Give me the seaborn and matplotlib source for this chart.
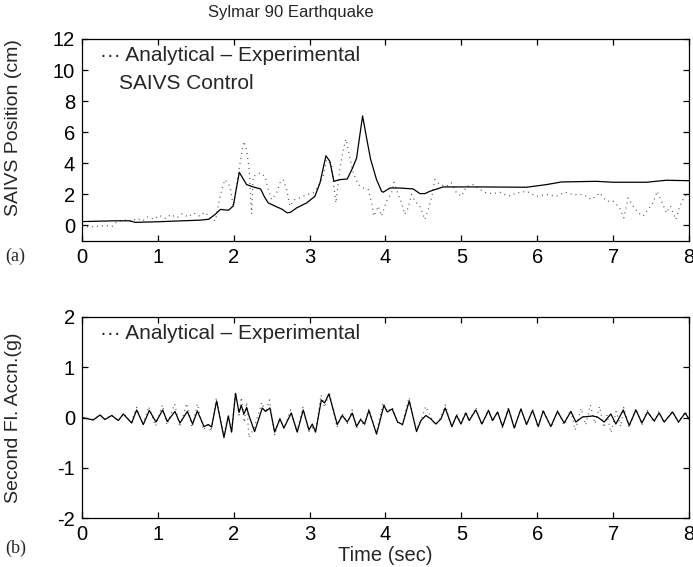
import matplotlib
matplotlib.use("Agg")
import matplotlib.pyplot as plt
import pandas as pd
import seaborn as sns

# ---- (a) SAIVS position, cm ----
pos_exp_t = [0.0, 0.44, 0.63, 0.70, 1.01, 1.32, 1.555, 1.67, 1.757, 1.823, 1.932, 1.994,
             2.073, 2.169, 2.257, 2.354, 2.411, 2.455, 2.565, 2.631, 2.705, 2.749, 2.828,
             2.96, 3.07, 3.136, 3.215, 3.267, 3.32, 3.40, 3.496, 3.566, 3.619, 3.698,
             3.751, 3.803, 3.882, 3.948, 3.97, 4.058, 4.19, 4.365, 4.453, 4.519, 4.585,
             4.761, 5.244, 5.859, 6.122, 6.32, 6.781, 7.0, 7.439, 7.703, 8.0]
pos_exp_v = [0.25, 0.30, 0.30, 0.20, 0.24, 0.30, 0.34, 0.40, 0.72, 1.03, 0.98, 1.26,
             3.42, 2.63, 2.48, 2.35, 1.78, 1.45, 1.20, 1.06, 0.81, 0.85, 1.13,
             1.45, 1.88, 2.73, 4.49, 4.12, 2.84, 2.95, 2.99, 3.70, 4.34, 7.05,
             5.62, 4.27, 2.95, 2.20, 2.14, 2.41, 2.41, 2.35, 2.05, 2.05, 2.20,
             2.48, 2.48, 2.46, 2.63, 2.80, 2.84, 2.78, 2.78, 2.91, 2.88]

pos_ana_t = [0.0, 0.1, 0.2, 0.3, 0.4, 0.45, 0.5, 0.58, 0.65, 0.72, 0.8, 0.87, 0.95,
             1.02, 1.1, 1.17, 1.25, 1.32, 1.4, 1.47, 1.55, 1.62, 1.7, 1.76, 1.8, 1.84,
             1.884, 1.95, 1.994, 2.104, 2.135, 2.169, 2.204, 2.235, 2.257, 2.345,
             2.411, 2.455, 2.499, 2.565, 2.609, 2.653, 2.697, 2.741, 2.806, 2.872,
             2.96, 3.048, 3.114, 3.179, 3.223, 3.289, 3.346, 3.40, 3.443, 3.479,
             3.522, 3.575, 3.641, 3.707, 3.773, 3.817, 3.848, 3.905, 3.948, 4.014,
             4.08, 4.11, 4.168, 4.212, 4.255, 4.299, 4.343, 4.387, 4.453, 4.519,
             4.563, 4.607, 4.651, 4.716, 4.804, 4.87, 4.936, 5.002, 5.068, 5.156,
             5.244, 5.331, 5.419, 5.507, 5.617, 5.727, 5.858, 5.99, 6.122, 6.254,
             6.363, 6.473, 6.605, 6.715, 6.825, 6.912, 7.0, 7.088, 7.141, 7.198,
             7.264, 7.33, 7.396, 7.461, 7.527, 7.58, 7.637, 7.703, 7.756, 7.826,
             7.878, 7.944, 8.0]
pos_ana_v = [-0.05, -0.10, -0.05, 0.0, -0.05, 0.20, 0.30, 0.35, 0.25, 0.45, 0.30, 0.55, 0.40,
             0.65, 0.45, 0.70, 0.50, 0.75, 0.55, 0.80, 0.60, 0.85, 0.45, 0.30, 1.40, 2.30,
             2.95, 2.52, 1.24, 4.66, 5.41, 4.87, 3.59, 0.74, 3.16, 3.38,
             3.16, 2.31, 1.67, 2.10, 2.74, 2.95, 2.31, 1.24, 1.67, 1.78,
             1.99, 2.10, 2.52, 3.16, 4.23, 3.91, 1.45, 3.70, 4.87, 5.56,
             4.55, 3.38, 2.63, 2.42, 2.31, 1.45, 0.60, 1.24, 0.60, 1.56,
             2.09, 2.78, 1.99, 1.45, 0.71, 1.13, 1.99, 1.56, 1.24, 0.38,
             1.03, 1.77, 2.95, 2.63, 2.52, 2.74, 2.09, 1.88, 2.52, 2.63,
             2.31, 2.09, 2.05, 2.14, 1.88, 2.09, 2.20, 1.88, 1.99, 1.88,
             2.14, 1.99, 1.99, 1.67, 2.09, 1.56, 1.56, 1.13, 0.49, 1.77,
             1.24, 0.81, 0.60, 1.03, 1.45, 2.20, 1.56, 0.81, 1.24, 0.38,
             1.24, 1.88, 2.09]

# ---- (b) second floor acceleration, g ----
acc_exp_t = [0.0, 0.149, 0.237, 0.303, 0.391, 0.479, 0.545, 0.654, 0.72, 0.808, 0.887,
             0.975, 1.063, 1.124, 1.225, 1.291, 1.388, 1.458, 1.52, 1.607, 1.664, 1.708,
             1.774, 1.871, 1.928, 1.972, 2.024, 2.069, 2.099, 2.134, 2.17, 2.20, 2.275,
             2.376, 2.42, 2.477, 2.539, 2.609, 2.661, 2.758, 2.837, 2.916, 2.991, 3.035,
             3.079, 3.154, 3.197, 3.254, 3.364, 3.43, 3.496, 3.562, 3.619, 3.671, 3.724,
             3.781, 3.882, 3.979, 4.023, 4.088, 4.159, 4.225, 4.313, 4.409, 4.467,
             4.532, 4.598, 4.664, 4.73, 4.787, 4.875, 4.937, 4.994, 5.059, 5.103, 5.191,
             5.27, 5.358, 5.411, 5.477, 5.543, 5.622, 5.697, 5.785, 5.859, 5.938, 6.013,
             6.078, 6.179, 6.267, 6.355, 6.443, 6.509, 6.596, 6.662, 6.728, 6.794, 6.882,
             6.97, 7.036, 7.133, 7.212, 7.30, 7.379, 7.454, 7.541, 7.607, 7.673, 7.783,
             7.862, 7.95, 8.0]
acc_exp_v = [0.0, -0.05, 0.05, -0.04, 0.04, -0.06, 0.07, -0.11, 0.15, -0.14, 0.14,
             -0.09, 0.15, -0.08, 0.12, -0.11, 0.12, -0.13, 0.13, -0.18, -0.14, -0.19,
             0.33, -0.40, 0.03, -0.29, 0.48, 0.10, 0.24, 0.07, 0.20, 0.04, -0.28,
             0.19, 0.12, 0.19, -0.29, -0.03, -0.21, 0.09, -0.29, 0.15, -0.25, -0.13,
             -0.29, 0.35, 0.29, 0.47, -0.14, 0.04, -0.09, 0.09, -0.18, -0.04, -0.13,
             0.14, -0.33, 0.24, 0.11, 0.17, -0.09, -0.14, 0.33, -0.28, -0.06,
             0.04, -0.03, -0.13, -0.03, 0.19, -0.18, 0.04, -0.13, 0.09, -0.06, 0.15,
             -0.13, 0.14, -0.06, 0.11, -0.18, 0.17, -0.21, 0.17, -0.14, 0.14, -0.18,
             0.13, -0.18, 0.12, -0.11, 0.12, -0.09, 0.01, 0.02, 0.03, 0.01, -0.09,
             0.07, -0.13, 0.15, -0.16, 0.15, -0.11, 0.11, -0.07, 0.09, -0.09, 0.11,
             -0.09, 0.09, -0.03]

acc_ana_t = [0.0, 0.15, 0.24, 0.30, 0.39, 0.48, 0.545, 0.65, 0.72, 0.80, 0.88, 0.97,
             1.06, 1.12, 1.22, 1.29, 1.38, 1.45, 1.52, 1.60, 1.66, 1.70, 1.77, 1.87,
             1.93, 1.97, 2.02, 2.07, 2.10, 2.14, 2.17, 2.20, 2.27, 2.37, 2.42, 2.47,
             2.54, 2.60, 2.66, 2.75, 2.83, 2.91, 2.99, 3.04, 3.08, 3.15, 3.20, 3.26,
             3.36, 3.43, 3.50, 3.56, 3.62, 3.67, 3.72, 3.78, 3.88, 3.97, 4.02, 4.09,
             4.16, 4.22, 4.31, 4.40, 4.46, 4.53, 4.60, 4.66, 4.73, 4.79, 4.87, 4.94,
             4.99, 5.06, 5.10, 5.19, 5.27, 5.35, 5.41, 5.48, 5.54, 5.62, 5.70, 5.78,
             5.86, 5.94, 6.01, 6.08, 6.18, 6.27, 6.35, 6.44, 6.50, 6.58, 6.64, 6.70,
             6.76, 6.82, 6.88, 6.92, 6.97, 7.04, 7.10, 7.14, 7.21, 7.30, 7.38, 7.45,
             7.54, 7.60, 7.67, 7.78, 7.86, 7.95, 8.0]
acc_ana_v = [0.0, -0.04, 0.05, -0.04, 0.05, -0.07, 0.08, -0.10, 0.20, -0.15, 0.22, -0.17,
             0.25, -0.15, 0.27, -0.19, 0.28, -0.20, 0.27, -0.25, -0.15, -0.28, 0.38, -0.35,
             0.05, -0.30, 0.50, 0.05, 0.40, -0.10, 0.30, -0.40, -0.20, 0.30, 0.10, 0.35,
             -0.35, 0.0, -0.22, 0.15, -0.30, 0.20, -0.28, -0.20, -0.30, 0.45, 0.20, 0.50,
             -0.20, 0.08, -0.12, 0.15, -0.22, -0.02, -0.17, 0.18, -0.30, 0.30, 0.12, 0.20,
             -0.10, -0.15, 0.40, -0.24, -0.10, 0.22, 0.0, -0.15, 0.0, 0.25, -0.20, 0.08,
             -0.12, 0.12, -0.08, 0.20, -0.15, 0.16, -0.08, 0.12, -0.20, 0.20, -0.22, 0.18,
             -0.15, 0.17, -0.20, 0.16, -0.20, 0.15, -0.15, 0.15, -0.25, 0.18, -0.15, 0.25,
             -0.12, 0.22, -0.20, 0.05, -0.30, 0.12, -0.18, 0.20, -0.20, 0.18, -0.15, 0.14,
             -0.10, 0.12, -0.10, 0.13, -0.10, 0.12, -0.02]

x_ticks = [0, 1, 2, 3, 4, 5, 6, 7, 8]
pos_ticks = [0, 2, 4, 6, 8, 10, 12]
acc_ticks = [-2, -1, 0, 1, 2]

sns.set_theme(style="ticks")
plt.rcParams["font.family"] = ["Liberation Sans", "DejaVu Sans"]
plt.rcParams["axes.unicode_minus"] = False

fig = plt.figure(figsize=(6.93, 5.67), dpi=100)
W, H = 693, 567
ax1 = fig.add_axes([82 / W, 1 - 241 / H, 607 / W, 202 / H])
ax2 = fig.add_axes([82 / W, 1 - 518 / H, 607 / W, 201 / H])

solid_kw = dict(color="black", linewidth=0.9, estimator=None, sort=False)
dot_kw = dict(color="#555555", linewidth=0.9, linestyle=(0, (0.8, 3.2)),
              estimator=None, sort=False)

sns.lineplot(data=pd.DataFrame({"t": pos_ana_t, "v": pos_ana_v}), x="t", y="v", ax=ax1, **dot_kw)
sns.lineplot(data=pd.DataFrame({"t": pos_exp_t, "v": pos_exp_v}), x="t", y="v", ax=ax1, **solid_kw)
sns.lineplot(data=pd.DataFrame({"t": acc_ana_t, "v": acc_ana_v}), x="t", y="v", ax=ax2, **dot_kw)
sns.lineplot(data=pd.DataFrame({"t": acc_exp_t, "v": acc_exp_v}), x="t", y="v", ax=ax2, **solid_kw)

for ax, yt, ylim in ((ax1, pos_ticks, (-1, 12)), (ax2, acc_ticks, (-2, 2))):
    ax.set_xlim(0, 8)
    ax.set_ylim(*ylim)
    ax.set_xticks(x_ticks)
    ax.set_yticks(yt)
    ax.tick_params(direction="in", length=4, width=0.9, top=True, right=True,
                   labelsize=14.5, colors="black", pad=5)
    for s in ax.spines.values():
        s.set_visible(True)
        s.set_color("black")
        s.set_linewidth(0.9)
    ax.set_xlabel("")
    ax.set_ylabel("")

ax1.set_ylabel("SAIVS Position (cm)", fontsize=14)
ax1.yaxis.set_label_coords((22 - 82) / 607, (241 - 128) / 202)
ax2.set_ylabel("Second Fl. Accn.(g)", fontsize=14)
ax2.yaxis.set_label_coords((22 - 82) / 607, 0.5)
ax2.set_xlabel("Time (sec)", fontsize=14.5)
ax2.xaxis.set_label_coords(0.5, (518 - 546) / 201)

ax1.text(0.03, 0.92, "\u00b7\u00b7\u00b7 Analytical \u2013 Experimental", transform=ax1.transAxes,
         ha="left", va="center", fontsize=15)
ax1.text(0.061, 0.782, "SAIVS Control", transform=ax1.transAxes,
         ha="left", va="center", fontsize=15)
ax2.text(0.03, 0.92, "\u00b7\u00b7\u00b7 Analytical \u2013 Experimental", transform=ax2.transAxes,
         ha="left", va="center", fontsize=15)

fig.text(291 / W, 1 - 12 / H, "Sylmar 90 Earthquake", ha="center", va="center", fontsize=12)
fig.text(5 / W, 1 - 256 / H, "(a)", ha="left", va="center", fontsize=13,
         family=["Liberation Serif", "DejaVu Serif"])
fig.text(5 / W, 1 - 548 / H, "(b)", ha="left", va="center", fontsize=13,
         family=["Liberation Serif", "DejaVu Serif"])

fig.savefig("out.png", dpi=100, facecolor="white")
